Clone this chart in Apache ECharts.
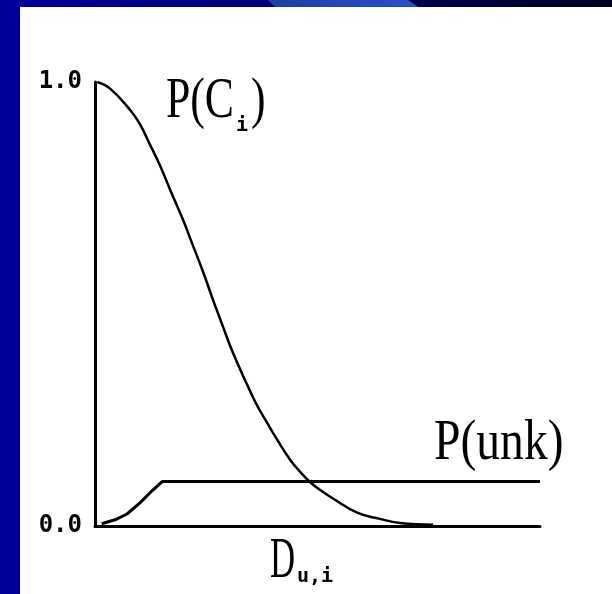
<!DOCTYPE html>
<html>
<head>
    <meta charset="utf-8">
    <style type="text/css">
        html,body { margin: 0px; padding: 0px; background: #ffffff; }
        #band { position: absolute; left: 0; top: 0; width: 612px; height: 7px;
            background: linear-gradient(to right, #000099 0%, #000070 45%, #000040 75%, #000020 100%); }
        #shine { position: absolute; left: 268px; top: 0; width: 150px; height: 7px;
            background: linear-gradient(to right, #1e3c9e, #2a52c4);
            clip-path: polygon(0 0, 140px 0, 150px 7px, 7px 7px); }
        #bar { position: absolute; left: 0; top: 0; width: 20px; height: 594px; background: #000099; }
        #canvas1 { position: absolute; left: 0; top: 0; width: 612px; height: 594px; }
    </style>
    <script src="https://cdn.jsdelivr.net/npm/echarts@6/dist/echarts.min.js"></script>
</head>
<body>
    <div id="band"></div>
    <div id="shine"></div>
    <div id="bar"></div>
    <div id="canvas1"></div>

    <script type="text/javascript">
        // P(Ci) curve
        var pcX = [0.05, 0.34, 0.79, 1.01, 1.24, 1.46, 1.69, 1.98, 2.18, 2.43, 2.65, 2.88, 3.10, 3.42, 3.64,
                   3.87, 4.09, 4.38, 4.61, 4.83, 5.06, 5.33, 5.89, 6.40, 6.85, 7.60];
        var pcY = [1.0, 0.985, 0.937, 0.905, 0.858, 0.812, 0.757, 0.689, 0.637, 0.572, 0.51, 0.448, 0.390, 0.318, 0.272,
                   0.232, 0.195, 0.150, 0.122, 0.099, 0.081, 0.063, 0.030, 0.016, 0.007, 0.003];
        // P(unk) curve
        var unkX = [0.15, 0.45, 0.72, 1.01, 1.30, 1.51, 10];
        var unkY = [0.005, 0.014, 0.027, 0.052, 0.081, 0.1, 0.1];
        // y tick labels
        var yTicks = ['0.0', '1.0'];

        function pairs(xs, ys) {
            var out = [];
            for (var i = 0; i < xs.length; i++) out.push([xs[i], ys[i]]);
            return out;
        }

        var bigFont = '56px "Liberation Serif"';
        var smallFont = 'bold 20px "DejaVu Sans Mono"';

        var myChart1 = echarts.init(document.getElementById("canvas1"));

        var option1 = {
            animation: false,
            grid: { left: 95, right: 72, top: 82, bottom: 68 },
            xAxis: {
                type: 'value', min: 0, max: 10,
                axisLine: { show: true, lineStyle: { color: '#000', width: 3 } },
                axisTick: { show: false }, axisLabel: { show: false }, splitLine: { show: false }
            },
            yAxis: {
                type: 'value', min: 0, max: 1, interval: 1,
                axisLine: { show: true, lineStyle: { color: '#000', width: 3 } },
                axisTick: { show: false }, splitLine: { show: false },
                axisLabel: {
                    margin: 13, color: '#000', fontFamily: 'DejaVu Sans Mono', fontWeight: 'bold', fontSize: 24,
                    formatter: function (v) { return yTicks[Math.round(v)]; }
                }
            },
            graphic: [
                { type: 'text', x: 166, y: 102, scaleX: 0.78, style: { text: 'P(C', font: bigFont, fill: '#000', textVerticalAlign: 'middle' } },
                { type: 'text', x: 236, y: 126, style: { text: 'i', font: smallFont, fill: '#000', textVerticalAlign: 'middle' } },
                { type: 'text', x: 251, y: 102, scaleX: 0.78, style: { text: ')', font: bigFont, fill: '#000', textVerticalAlign: 'middle' } },
                { type: 'text', x: 434, y: 444, scaleX: 0.85, style: { text: 'P(unk)', font: bigFont, fill: '#000', textVerticalAlign: 'middle' } },
                { type: 'text', x: 270, y: 562, scaleX: 0.62, style: { text: 'D', font: bigFont, fill: '#000', textVerticalAlign: 'middle' } },
                { type: 'text', x: 297, y: 577, style: { text: 'u,i', font: smallFont, fill: '#000', textVerticalAlign: 'middle' } }
            ],
            series: [{
                name: 'P(Ci)', type: 'line', smooth: 0.45, symbol: 'none',
                lineStyle: { color: '#000', width: 2.5 },
                data: pairs(pcX, pcY)
            }, {
                name: 'P(unk)', type: 'line', smooth: false, symbol: 'none',
                lineStyle: { color: '#000', width: 3 },
                data: pairs(unkX, unkY)
            }]
        };

        myChart1.setOption(option1);
    </script>
</body>
</html>
